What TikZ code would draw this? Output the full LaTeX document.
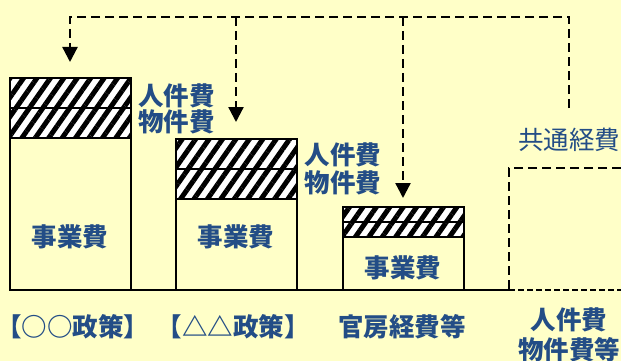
\documentclass[tikz,border=0pt]{standalone}
\usepackage{fontspec}
\setmainfont{Noto Sans CJK JP}
\usetikzlibrary{arrows.meta,patterns.meta}
\definecolor{bg}{HTML}{FFFFC8}
\definecolor{txt}{HTML}{234D86}
\begin{document}
\begin{tikzpicture}[x=1pt,y=-1pt,
  lbl/.style={text=txt,font=\fontsize{25.5}{26}\selectfont\bfseries,inner sep=0pt},
  lblr/.style={text=txt,font=\fontsize{25.5}{26}\selectfont,inner sep=0pt},
  box/.style={draw=black,line width=2.5pt,fill=bg,minimum width=121pt,inner sep=0pt,outer sep=0pt,anchor=south west},
  hatch/.style={draw=black,line width=2.5pt,minimum width=121pt,inner sep=0pt,outer sep=0pt,anchor=south west,
    preaction={fill=white},pattern={Lines[angle=55,distance=11pt,line width=5pt]},pattern color=black},
  conn/.style={line width=2.3pt,dash pattern=on 9pt off 5pt},
  tip/.style={-{Triangle[width=15pt,length=15pt]}},
  base/.style={line width=2.5pt}]
\fill[bg] (0,0) rectangle (621,361);
\useasboundingbox (0,0) rectangle (621,361);
% boxes
\node[box,minimum height=152pt] (b1) at (10,290) {};
\node[hatch,minimum height=30pt] (b1m) at (b1.north west) {};
\node[hatch,minimum height=30pt] (b1p) at (b1m.north west) {};
\node[box,minimum height=91pt] (b2) at (176,290) {};
\node[hatch,minimum height=30pt] (b2m) at (b2.north west) {};
\node[hatch,minimum height=30pt] (b2p) at (b2m.north west) {};
\node[box,minimum height=53pt] (b3) at (343,290) {};
\node[hatch,minimum height=15pt] (b3m) at (b3.north west) {};
\node[hatch,minimum height=15pt] (b3p) at (b3m.north west) {};
% baseline and dashed box
\coordinate (gl) at (10,290);
\coordinate (gr) at (509,290);
\coordinate (d1) at (621,168);
\coordinate (d2) at (509,168);
\coordinate (d3) at (621,290);
\draw[base] (gl) -- (gr);
\draw[conn] (d1) -- (d2) -- (gr);
\draw[line width=2pt,dash pattern=on 6pt off 3pt] (gr) -- (d3);
% connectors
\coordinate (t1) at (70,17);
\coordinate (t2) at (236,17);
\coordinate (t3) at (403,17);
\coordinate (t4) at (569,17);
\coordinate (a1) at (70,62);
\coordinate (a2) at (236,122);
\coordinate (a3) at (403,198);
\coordinate (e4) at (569,108);
\draw[conn,tip] (e4) -- (t4) -- (t1) -- (a1);
\draw[conn,tip] (t2) -- (a2);
\draw[conn,tip] (t3) -- (a3);
% labels
\node[lbl] (l1a) at (176.5,96) {人件費};
\node[lbl] (l1b) at (176.5,122) {物件費};
\node[lbl] (l2a) at (343,155) {人件費};
\node[lbl] (l2b) at (343,183) {物件費};
\node[lblr] (kt) at (569,140) {共通経費};
\node[lbl] (j1) at (70,237) {事業費};
\node[lbl] (j2) at (236,237) {事業費};
\node[lbl] (j3) at (403,268) {事業費};
\node[lbl] (p1) at (73,327) {【○○政策】};
\node[lbl] (p2) at (233,327) {【△△政策】};
\node[lbl] (p3) at (402,327) {官房経費等};
\node[lbl] (p4a) at (569,320) {人件費};
\node[lbl] (p4b) at (569,350) {物件費等};
\end{tikzpicture}
\end{document}
